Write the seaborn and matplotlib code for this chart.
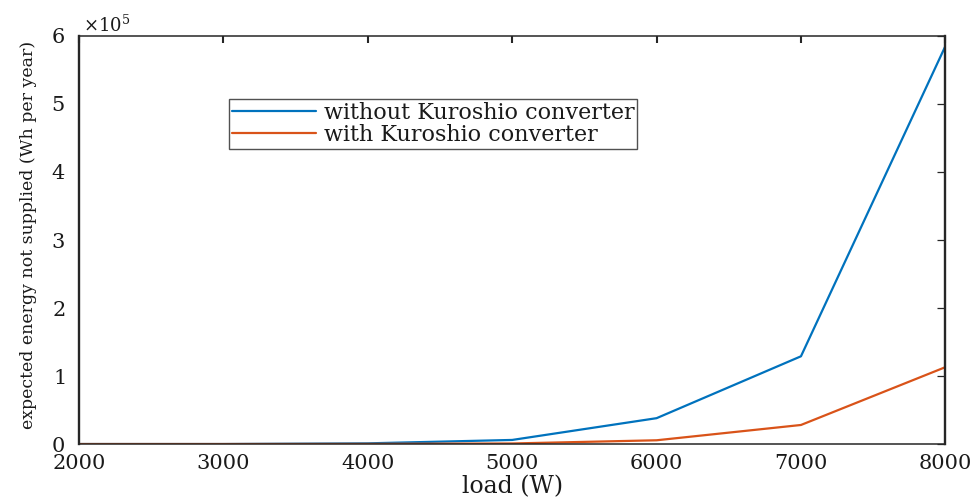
import matplotlib
matplotlib.use("Agg")
import matplotlib.pyplot as plt
from matplotlib.ticker import ScalarFormatter
import seaborn as sns
import pandas as pd

# Load levels (W)
load = [2000, 3000, 4000, 5000, 6000, 7000, 8000]
# Expected energy not supplied (Wh per year)
eens_without = [0, 0, 1000, 6000, 38000, 129000, 585000]
eens_with = [0, 0, 200, 800, 5500, 28000, 113000]
series_names = ["without Kuroshio converter", "with Kuroshio converter"]

df = pd.concat([
    pd.DataFrame({"load": load, "eens": eens_without, "case": series_names[0]}),
    pd.DataFrame({"load": load, "eens": eens_with, "case": series_names[1]}),
])

sns.set_style("white")
plt.rcParams["font.family"] = ["DejaVu Serif", "Liberation Serif"]
plt.rcParams["mathtext.fontset"] = "dejavuserif"

fig = plt.figure(figsize=(9.77, 4.97), dpi=100)
ax = fig.add_axes([0.0809, 0.1066, 0.8867, 0.8210])

sns.lineplot(data=df, x="load", y="eens", hue="case",
             palette=["#0072BD", "#D95319"], linewidth=1.6, ax=ax,
             legend=True)

ax.set_xlim(2000, 8000)
ax.set_ylim(0, 600000)
ax.set_xticks([2000, 3000, 4000, 5000, 6000, 7000, 8000])
ax.set_yticks([0, 100000, 200000, 300000, 400000, 500000, 600000])

fmt = ScalarFormatter(useMathText=True)
fmt.set_powerlimits((0, 0))
ax.yaxis.set_major_formatter(fmt)
offset = ax.yaxis.get_offset_text()
offset.set_fontsize(13)
offset.set_x(0.004)

ax.tick_params(axis="x", direction="in", length=5, width=1.5, labelsize=15,
               top=True, pad=7, colors="#262626", labelcolor="#1a1a1a")
ax.tick_params(axis="y", direction="in", length=6, width=0.9, labelsize=15,
               right=True, pad=10, colors="#262626", labelcolor="#1a1a1a")
for name, s in ax.spines.items():
    s.set_visible(True)
    s.set_color("#262626")
    s.set_linewidth(1.7 if name in ("left", "right") else 1.1)

ax.set_xlabel("load (W)", fontsize=17, labelpad=2, color="#1a1a1a")
ax.set_ylabel("expected energy not supplied (Wh per year)", fontsize=12.5,
              color="#1a1a1a")
ax.yaxis.set_label_coords(-0.049, 0.512)

leg = ax.legend(loc="upper left", bbox_to_anchor=(0.173, 0.845), fontsize=16,
                frameon=True, fancybox=False, edgecolor="#262626",
                handlelength=3.8, borderpad=0.12, labelspacing=0.0,
                handletextpad=0.35, borderaxespad=0)
leg.get_frame().set_linewidth(1.0)
for t in leg.get_texts():
    t.set_color("#1a1a1a")

fig.savefig("out.png", dpi=100, facecolor="white")
